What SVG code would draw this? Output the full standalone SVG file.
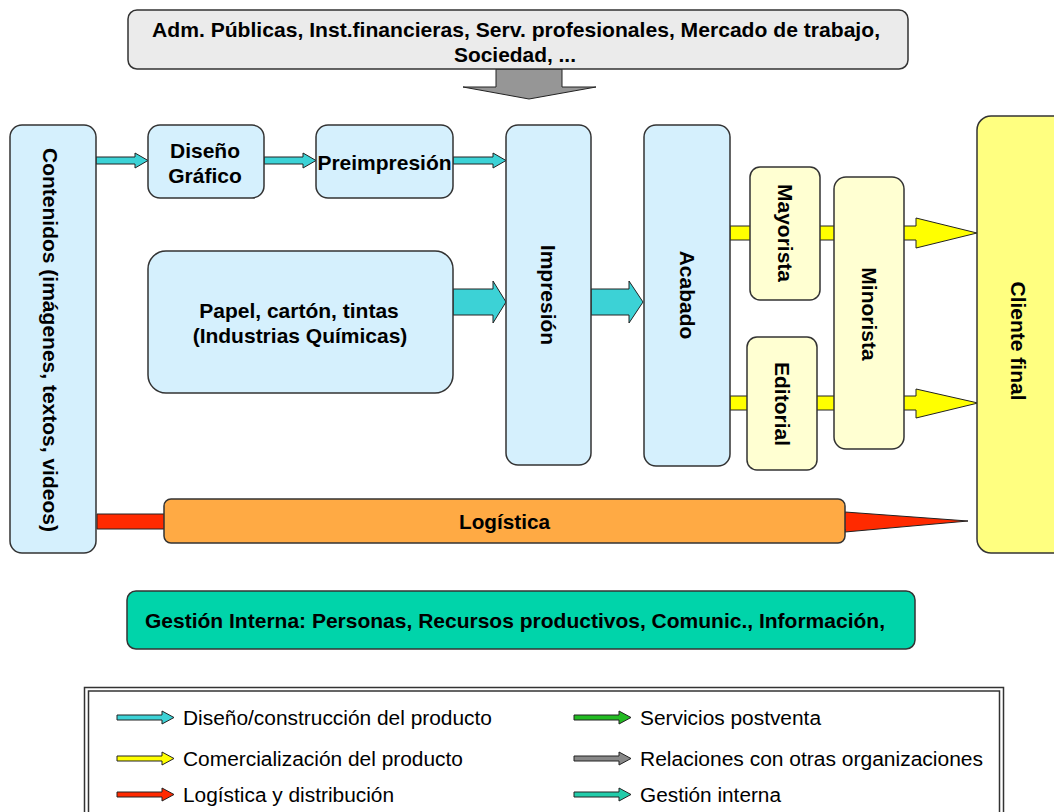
<svg xmlns="http://www.w3.org/2000/svg" width="1054" height="812" viewBox="0 0 1054 812">
<style>
.box{stroke:#333;stroke-width:1.5}
.blue{fill:#d5f0fd}
.ly{fill:#ffffd2}
.arr{stroke:#222;stroke-width:1}
.t{font-family:"Liberation Sans",Arial,sans-serif;font-weight:bold;font-size:21px;fill:#000}
.c{font-family:"Liberation Sans",Arial,sans-serif;font-weight:bold;font-size:21px;fill:#000}
.lg{font-family:"Liberation Sans",Arial,sans-serif;font-size:20px;fill:#000}
</style>
<rect width="1054" height="812" fill="#fff"/>
<g id="connectors">
  <polygon class="arr" fill="#969696" points="496,69 562,69 562,87 596,87 529,99 463,87 496,87"/>
  <polygon class="arr" fill="#3cd2d6" points="96,157 135,157 135,153 148,160.5 135,168 135,164 96,164"/>
  <polygon class="arr" fill="#3cd2d6" points="264,157 303,157 303,153 316,160.5 303,168 303,164 264,164"/>
  <polygon class="arr" fill="#3cd2d6" points="453,157 493,157 493,153 506,160.5 493,168 493,164 453,164"/>
  <polygon class="arr" fill="#3cd2d6" points="453,289 493,289 493,281 506,302 493,323 493,315 453,315"/>
  <polygon class="arr" fill="#3cd2d6" points="591,289 629,289 629,281 643,302 629,323 629,315 591,315"/>
  <polygon class="arr" fill="#ffff00" points="730,226 916,226 916,218 977,233 916,248 916,240 730,240"/>
  <polygon class="arr" fill="#ffff00" points="730,396 916,396 916,389 978,403 916,418 916,410 730,410"/>
  <polygon class="arr" fill="#ff2a00" points="97,514 845,514 845,512 968,521 845,532 845,529 97,529"/>
</g>
<g id="top">
  <rect class="box" x="128" y="10" width="780" height="59" rx="9" fill="#ebebeb"/>
  <text class="c" x="152" y="37" textLength="728" lengthAdjust="spacingAndGlyphs">Adm. Públicas, Inst.financieras, Serv. profesionales, Mercado de trabajo,</text>
  <text class="c" x="454" y="62" textLength="122" lengthAdjust="spacingAndGlyphs">Sociedad, ...</text>
</g>
<g id="contenidos">
  <rect class="box blue" x="10" y="125" width="86" height="428" rx="12"/>
  <text class="t" text-anchor="middle" dy="7" transform="translate(50,340) rotate(90)">Contenidos (imágenes, textos, videos)</text>
</g>
<g id="diseno">
  <rect class="box blue" x="148" y="125" width="116" height="73" rx="12"/>
  <text class="t" text-anchor="middle" x="205" y="158">Diseño</text>
  <text class="t" text-anchor="middle" x="205" y="183">Gráfico</text>
</g>
<g id="preimpresion">
  <rect class="box blue" x="316" y="125" width="137" height="73" rx="12"/>
  <text class="t" text-anchor="middle" x="384.5" y="170">Preimpresión</text>
</g>
<g id="papel">
  <rect class="box blue" x="148" y="251" width="305" height="142" rx="18"/>
  <text class="t" text-anchor="middle" x="299" y="318">Papel, cartón, tintas</text>
  <text class="t" text-anchor="middle" x="300" y="343">(Industrias Químicas)</text>
</g>
<g id="impresion">
  <rect class="box blue" x="506" y="125" width="85" height="340" rx="12"/>
  <text class="t" text-anchor="middle" dy="7" transform="translate(548,295) rotate(90)">Impresión</text>
</g>
<g id="acabado">
  <rect class="box blue" x="644" y="125" width="86" height="341" rx="12"/>
  <text class="t" text-anchor="middle" dy="7" transform="translate(687,295) rotate(90)">Acabado</text>
</g>
<g id="mayorista">
  <rect class="box ly" x="750" y="167" width="70" height="133" rx="10"/>
  <text class="t" text-anchor="middle" dy="7" transform="translate(785,233) rotate(90)">Mayorista</text>
</g>
<g id="editorial">
  <rect class="box ly" x="747" y="337" width="70" height="133" rx="10"/>
  <text class="t" text-anchor="middle" dy="7" transform="translate(782,404) rotate(90)">Editorial</text>
</g>
<g id="minorista">
  <rect class="box ly" x="834" y="177" width="70" height="272" rx="12"/>
  <text class="t" text-anchor="middle" dy="7" transform="translate(869,314) rotate(90)">Minorista</text>
</g>
<g id="cliente">
  <rect class="box" x="977" y="116" width="90" height="437" rx="14" fill="#ffff80"/>
  <text class="t" text-anchor="middle" dy="7" transform="translate(1018,341) rotate(90)">Cliente final</text>
</g>
<g id="logistica">
  <rect class="box" x="164" y="499" width="681" height="44" rx="7" fill="#ffaa44"/>
  <text class="c" x="459" y="529" textLength="91" lengthAdjust="spacingAndGlyphs">Logística</text>
</g>
<g id="gestion">
  <rect class="box" x="127" y="591" width="788" height="58" rx="9" fill="#00d4aa"/>
  <text class="c" x="145" y="628" textLength="740" lengthAdjust="spacingAndGlyphs">Gestión Interna: Personas, Recursos productivos, Comunic., Información,</text>
</g>
<g id="legend">
  <rect x="84.5" y="687.5" width="919" height="140" fill="#fff" stroke="#333" stroke-width="1.5"/>
  <rect x="88.5" y="691" width="911" height="140" fill="none" stroke="#333" stroke-width="1.5"/>
  <polygon class="arr" fill="#3cd2d6" points="117,715 162,715 162,711 174,717.5 162,724 162,720 117,720"/>
  <text class="lg" x="183" y="725" textLength="309" lengthAdjust="spacingAndGlyphs">Diseño/construcción del producto</text>
  <polygon class="arr" fill="#22bb22" points="574,715 619,715 619,711 631,717.5 619,724 619,720 574,720"/>
  <text class="lg" x="640" y="725" textLength="181" lengthAdjust="spacingAndGlyphs">Servicios postventa</text>
  <polygon class="arr" fill="#ffff00" points="117,756 162,756 162,752 174,758.5 162,765 162,761 117,761"/>
  <text class="lg" x="183" y="766" textLength="280" lengthAdjust="spacingAndGlyphs">Comercialización del producto</text>
  <polygon class="arr" fill="#888888" points="574,756 619,756 619,752 631,758.5 619,765 619,761 574,761"/>
  <text class="lg" x="640" y="766" textLength="343" lengthAdjust="spacingAndGlyphs">Relaciones con otras organizaciones</text>
  <polygon class="arr" fill="#ff2a00" points="117,792 162,792 162,788 174,794.5 162,801 162,797 117,797"/>
  <text class="lg" x="183" y="802" textLength="211" lengthAdjust="spacingAndGlyphs">Logística y distribución</text>
  <polygon class="arr" fill="#22ccaa" points="574,792 619,792 619,788 631,794.5 619,801 619,797 574,797"/>
  <text class="lg" x="640" y="802" textLength="141" lengthAdjust="spacingAndGlyphs">Gestión interna</text>
</g>
</svg>
